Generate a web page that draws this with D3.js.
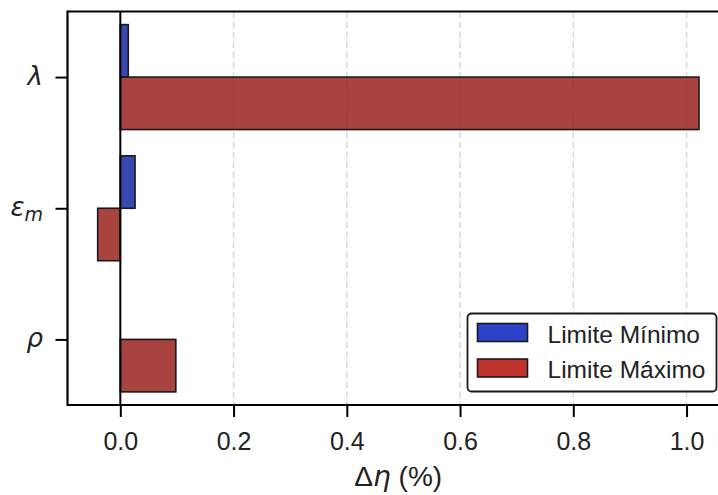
<!DOCTYPE html>
<html>
<head>
<meta charset="utf-8">
<script src="https://cdn.jsdelivr.net/npm/d3@7"></script>
<style>
  html, body { margin: 0; padding: 0; background: #fff; }
  svg { display: block; }
</style>
</head>
<body>
<div id="chart"></div>
<script>
// Sensitivity of efficiency (Δη, %) to each parameter at its bounds
const categories = ["λ", "ε", "ρ"];
const categorySubscripts = ["", "m", ""];
const minValues = [0.014, 0.026, 0.0];     // Limite Mínimo
const maxValues = [1.022, -0.040, 0.098];  // Limite Máximo
const xTicks = [0.0, 0.2, 0.4, 0.6, 0.8, 1.0];
const seriesNames = ["Limite Mínimo", "Limite Máximo"];

const W = 718, H = 495;
const plotLeft = 67.5, plotTop = 11.5, plotBottom = 405, plotRight = 729;
const barH = 0.4;

const svg = d3.select("#chart").append("svg")
  .attr("width", W).attr("height", H)
  .attr("viewBox", `0 0 ${W} ${H}`);

const x = d3.scaleLinear().domain([-0.0933, 1.075]).range([plotLeft, plotRight]);
const y = d3.scaleLinear().domain([-0.5, 2.5]).range([plotTop, plotBottom]);

const font = "'Liberation Sans', Arial, sans-serif";
const tickFs = 25;
const legendFs = 24.5;

// dashed vertical grid
svg.append("g").selectAll("line")
  .data(xTicks.filter(d => d !== 0))
  .join("line")
  .attr("x1", d => x(d)).attr("x2", d => x(d))
  .attr("y1", plotTop).attr("y2", plotBottom)
  .attr("stroke", "#dcdcdc").attr("stroke-width", 1.6)
  .attr("stroke-dasharray", "6.5,3.5");

// bars: minimum bound above each tick, maximum bound below it
const idx = d3.range(categories.length);
const bars = svg.append("g");
bars.selectAll("rect.min").data(idx).join("rect")
  .attr("class", "min")
  .attr("x", i => x(Math.min(0, minValues[i])))
  .attr("width", i => Math.abs(x(minValues[i]) - x(0)))
  .attr("y", i => y(i - barH))
  .attr("height", y(barH) - y(0))
  .attr("fill", "#152aa4").attr("fill-opacity", 0.85)
  .attr("stroke", "#1a1a1a").attr("stroke-width", 1.6)
  .style("display", i => minValues[i] === 0 ? "none" : null);
bars.selectAll("rect.max").data(idx).join("rect")
  .attr("class", "max")
  .attr("x", i => x(Math.min(0, maxValues[i])))
  .attr("width", i => Math.abs(x(maxValues[i]) - x(0)))
  .attr("y", i => y(i))
  .attr("height", y(barH) - y(0))
  .attr("fill", "#99221d").attr("fill-opacity", 0.85)
  .attr("stroke", "#1a1a1a").attr("stroke-width", 1.6);

// zero reference line
svg.append("line")
  .attr("x1", x(0)).attr("x2", x(0))
  .attr("y1", plotTop).attr("y2", plotBottom)
  .attr("stroke", "#000").attr("stroke-width", 2);

// x axis
const xAxis = svg.append("g")
  .attr("transform", `translate(0,${plotBottom})`)
  .call(d3.axisBottom(x).tickValues(xTicks).tickFormat(d3.format(".1f"))
    .tickSize(12).tickPadding(15));
xAxis.select(".domain").remove();
xAxis.selectAll(".tick line").attr("stroke", "#000").attr("stroke-width", 2);
xAxis.selectAll(".tick text")
  .attr("font-family", font).attr("font-size", tickFs).attr("fill", "#222");

// y axis with italic symbols
const yAxis = svg.append("g")
  .attr("transform", `translate(${plotLeft},0)`)
  .call(d3.axisLeft(y).tickValues(idx).tickFormat("").tickSize(12));
yAxis.select(".domain").remove();
yAxis.selectAll(".tick line").attr("stroke", "#000").attr("stroke-width", 2);
const yl = svg.append("g").selectAll("text").data(idx).join("text")
  .attr("x", 43).attr("y", i => y(i) + 8)
  .attr("text-anchor", "end")
  .attr("font-family", "'DejaVu Sans', sans-serif")
  .attr("font-style", "italic").attr("font-size", 26).attr("fill", "#222");
yl.append("tspan").text(i => categories[i]);
yl.append("tspan")
  .attr("font-size", 19).attr("dy", i => categorySubscripts[i] ? 5 : 0)
  .text(i => categorySubscripts[i]);

// spines
const spine = svg.append("g").attr("stroke", "#000").attr("stroke-width", 2.2);
spine.append("line").attr("x1", plotLeft).attr("x2", plotLeft).attr("y1", plotTop - 1.1).attr("y2", plotBottom + 1.1);
spine.append("line").attr("x1", plotLeft).attr("x2", plotRight).attr("y1", plotTop).attr("y2", plotTop);
spine.append("line").attr("x1", plotLeft).attr("x2", plotRight).attr("y1", plotBottom).attr("y2", plotBottom);

// x label
const xl = svg.append("text")
  .attr("x", (plotLeft + plotRight) / 2).attr("y", 486)
  .attr("text-anchor", "middle")
  .attr("font-family", font).attr("font-size", 28).attr("fill", "#222");
xl.append("tspan").text("Δ");
xl.append("tspan").attr("font-family", "'DejaVu Sans', sans-serif").attr("font-style", "italic").text("η");
xl.append("tspan").text(" (%)");

// legend
const lg = svg.append("g");
lg.append("rect")
  .attr("x", 467.5).attr("y", 313.5).attr("width", 249).attr("height", 78)
  .attr("rx", 4).attr("fill", "#fff").attr("fill-opacity", 0.9)
  .attr("stroke", "#1a1a1a").attr("stroke-width", 1.8);
const legendColors = ["#2c42c8", "#c0322d"];
const rows = lg.selectAll("g.row").data(seriesNames).join("g")
  .attr("class", "row")
  .attr("transform", (d, i) => `translate(0,${i * 35.5})`);
rows.append("rect")
  .attr("x", 477.5).attr("y", 323.5).attr("width", 50).attr("height", 18)
  .attr("fill", (d, i) => legendColors[i])
  .attr("stroke", "#1a1a1a").attr("stroke-width", 1.6);
rows.append("text")
  .attr("x", 547.5).attr("y", 342.5)
  .attr("font-family", font).attr("font-size", legendFs).attr("fill", "#222")
  .text(d => d);
</script>
</body>
</html>
